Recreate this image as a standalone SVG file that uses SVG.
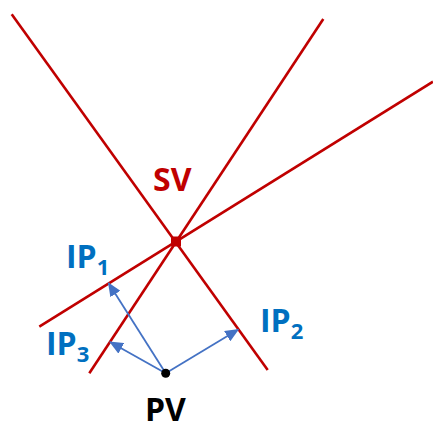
<svg xmlns="http://www.w3.org/2000/svg" width="433" height="423" viewBox="0 0 433 423">
<style>
.red{stroke:#C00000;stroke-width:2.6;fill:none;stroke-linecap:butt}
.blue{stroke:#4472C4;stroke-width:1.8;fill:none;marker-end:url(#ah)}
.lbl{font-family:"Open Sans","Noto Sans","Liberation Sans",sans-serif;font-weight:bold;font-size:32px}
.sub{font-size:22px}
</style>
<defs>
<marker id="ah" markerUnits="userSpaceOnUse" markerWidth="14" markerHeight="12" refX="13" refY="6" orient="auto">
<path d="M0,0 L14,6 L0,12 Z" fill="#4472C4"/>
</marker>
</defs>
<g id="connectors">
<line class="red" x1="11.7" y1="14.3" x2="267.7" y2="370"/>
<line class="red" x1="323.3" y1="19" x2="89.3" y2="373.3"/>
<line class="red" x1="433" y1="81.7" x2="39.3" y2="326.7"/>
<line class="blue" x1="165.7" y1="373.3" x2="108.5" y2="283"/>
<line class="blue" x1="165.7" y1="373.3" x2="110" y2="342"/>
<line class="blue" x1="165.7" y1="373.3" x2="238.3" y2="329.5"/>
</g>
<g id="SV">
<rect x="171" y="236.5" width="10" height="10" fill="#C00000"/>
<text class="lbl" x="153" y="191" fill="#C00000">SV</text>
</g>
<g id="PV">
<circle cx="165.7" cy="373.3" r="4.5" fill="#000"/>
<text class="lbl" x="145" y="421" fill="#000">PV</text>
</g>
<g id="IP1">
<text class="lbl" x="66" y="268" fill="#0070C0">IP<tspan class="sub" dy="7">1</tspan></text>
</g>
<g id="IP2">
<text class="lbl" x="260" y="332" fill="#0070C0">IP<tspan class="sub" dy="7">2</tspan></text>
</g>
<g id="IP3">
<text class="lbl" x="46" y="355" fill="#0070C0">IP<tspan class="sub" dy="7">3</tspan></text>
</g>
</svg>
